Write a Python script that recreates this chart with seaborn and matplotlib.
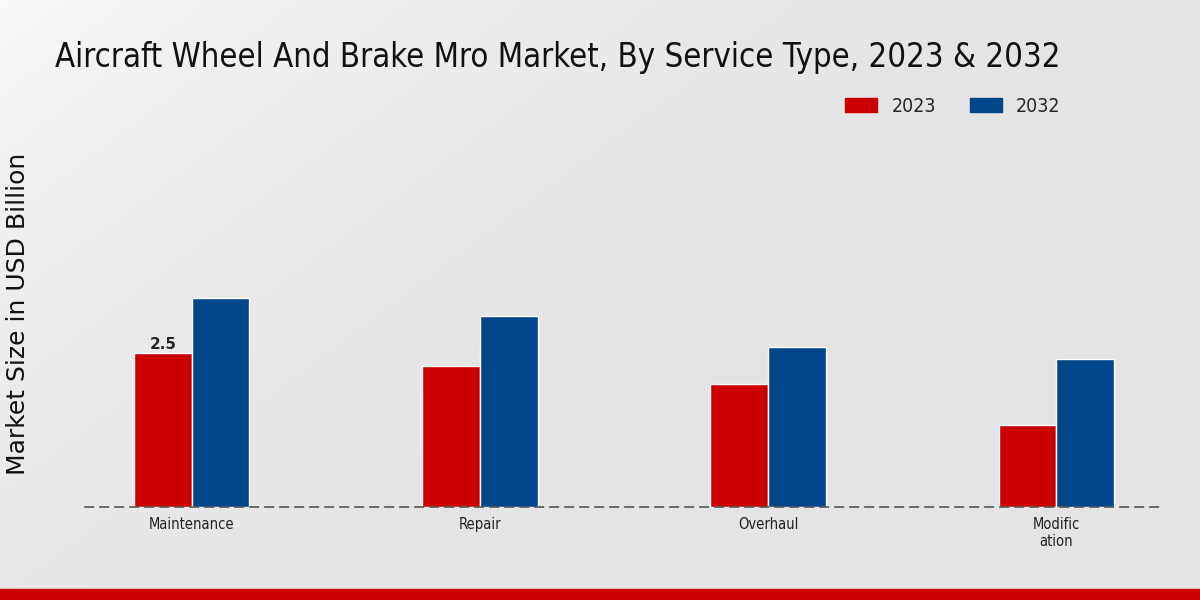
import matplotlib
matplotlib.use("Agg")
import matplotlib.pyplot as plt
import numpy as np
import pandas as pd
import seaborn as sns

# chart values
service_types = ["Maintenance", "Repair", "Overhaul", "Modific\nation"]
values_2023 = [2.5, 2.29, 2.0, 1.33]
values_2032 = [3.39, 3.10, 2.60, 2.40]
years = ["2023", "2032"]
colors = ["#cc0000", "#00468b"]

df = pd.DataFrame({
    "service": service_types * 2,
    "year": [years[0]] * 4 + [years[1]] * 4,
    "value": values_2023 + values_2032,
})

sns.set_style("white")
plt.rcParams["font.family"] = ["DejaVu Sans"]

fig = plt.figure(figsize=(12, 6), dpi=100)

# light gray gradient background, lightest in the top-left corner
bg = fig.add_axes([0, 0, 1, 1], zorder=-10)
gx, gy = np.meshgrid(np.linspace(0, 1, 300), np.linspace(0, 1, 150))
grad = np.clip((0.6 * gx + 0.4 * gy) * 1.8, 0, 1) ** 0.6
bg.imshow(grad, cmap=matplotlib.colors.LinearSegmentedColormap.from_list("g", ["#fafafa", "#e4e4e4"]),
          aspect="auto", extent=[0, 1, 0, 1], origin="upper")
bg.axis("off")

# red stripe at the bottom
fig.patches.append(plt.Rectangle((0, 0), 1, 11 / 600, transform=fig.transFigure,
                                 color="#cc0000", zorder=5))

ax = fig.add_axes([85 / 1200, (600 - 507) / 600, (1163 - 85) / 1200, (507 - 130) / 600])
ax.patch.set_alpha(0)
sns.barplot(data=df, x="service", y="value", hue="year", palette=colors,
            width=0.4, saturation=1, ax=ax, legend=False)

ax.set_xlim(-0.37, 3.37)
ax.set_ylim(0, 6.12)
for s in ["top", "right", "left"]:
    ax.spines[s].set_visible(False)
ax.spines["bottom"].set_linestyle((0, (5, 4)))
ax.spines["bottom"].set_color("#555555")
ax.spines["bottom"].set_linewidth(1.2)
ax.set_yticks([])
ax.set_xlabel("")
ax.set_ylabel("")
ax.tick_params(axis="x", length=4, color="#555555", pad=3)
for lbl in ax.get_xticklabels():
    lbl.set_fontsize(10.5)
    lbl.set_fontstretch("condensed")
    lbl.set_color("#222222")

# value label on the first bar
first = ax.containers[0]
ax.bar_label(first, labels=["2.5", "", "", ""], fontsize=11, fontweight="bold", padding=1)

fig.text(55 / 1200, 1 - 57 / 600, "Aircraft Wheel And Brake Mro Market, By Service Type, 2023 & 2032",
         fontsize=23.6, fontstretch="condensed", va="center", ha="left", color="#111111")
fig.text(18 / 1200, 1 - 314 / 600, "Market Size in USD Billion", rotation=90,
         fontsize=18, va="center", ha="center", color="#111111")

# legend
handles = [plt.Rectangle((0, 0), 1, 1, color=c) for c in colors]
fig.legend(handles, years, loc="center", bbox_to_anchor=(953 / 1200, 1 - 106 / 600),
           ncol=2, frameon=False, prop={"size": 14, "stretch": "condensed"},
           handlelength=1.65, handleheight=0.75, columnspacing=1.75, handletextpad=0.72)

fig.savefig("out.png", dpi=100)
